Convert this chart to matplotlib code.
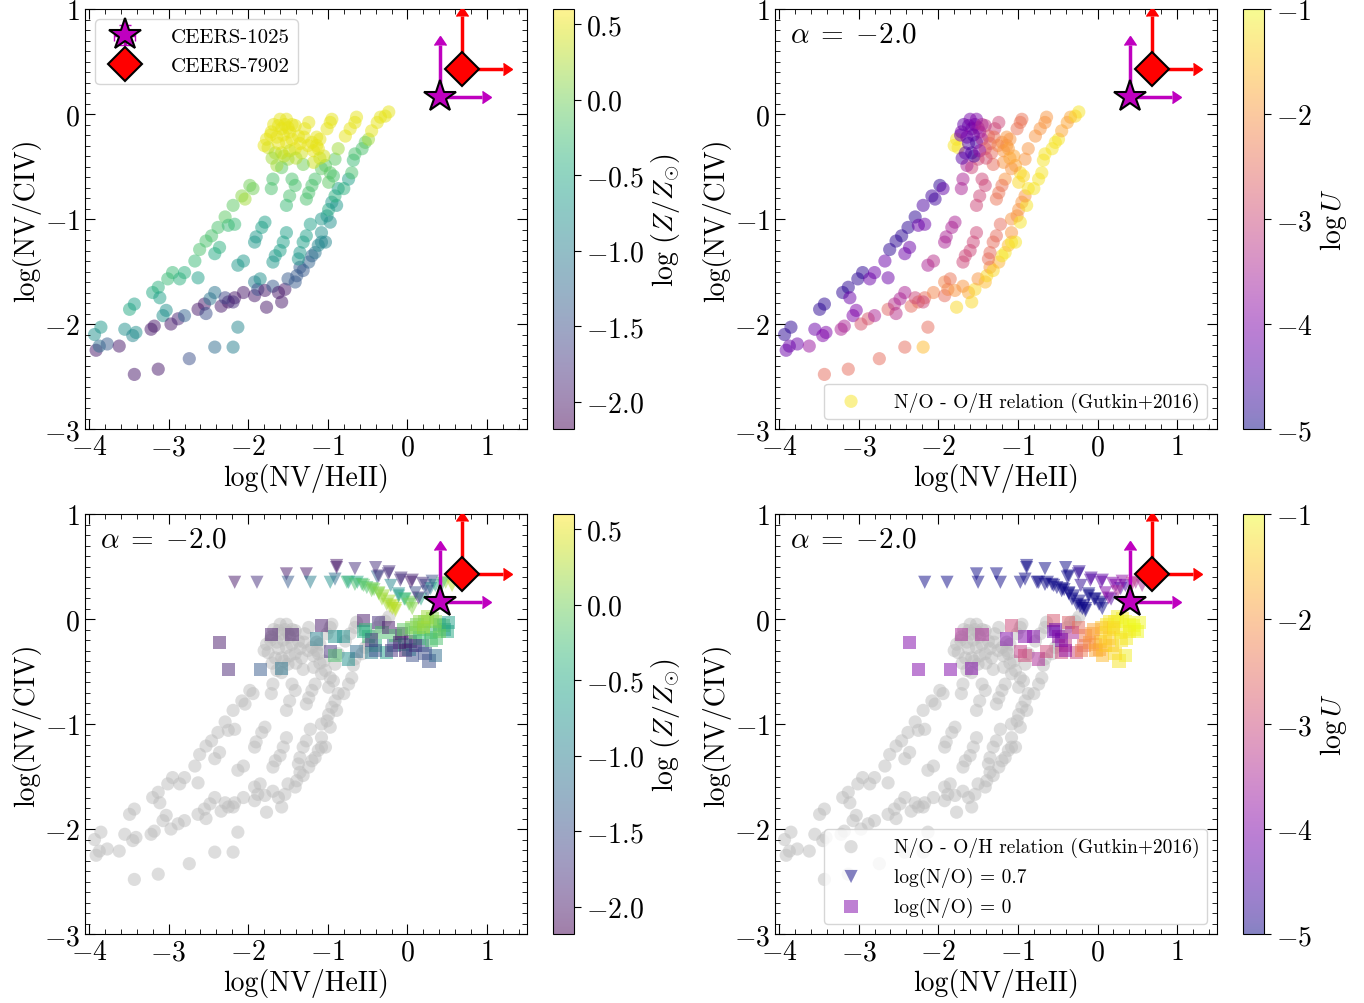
import numpy as np
import matplotlib.pyplot as plt
from matplotlib.ticker import MultipleLocator

plt.rcParams['font.family'] = 'serif'
plt.rcParams['font.serif'] = ['cmr10']
plt.rcParams['mathtext.fontset'] = 'cm'
plt.rcParams['axes.formatter.use_mathtext'] = True
plt.rcParams['font.size'] = 20

# photoionisation grid (Gutkin+2016 N/O - O/H relation)
grid_x = [-0.235, -3.91, -3.85, -3.93, -3.87, -3.77, -3.62, -3.55, -3.49, -3.43,
          -3.45, -3.41, -3.22, -3.18, -3.20, -3.13, -3.11, -3.07, -3.03, -2.97,
          -2.88, -3.01, -2.95, -2.86, -2.80, -2.80, -2.67, -2.61, -2.63, -2.63,
          -2.55, -2.53, -2.48, -2.42, -2.53, -2.46, -2.42, -2.36, -2.38, -2.29,
          -2.25, -2.17, -2.19, -2.34, -2.25, -2.29, -2.17, -2.06, -2.19, -2.13,
          -2.42, -2.19, -2.74, -3.13, -3.43, -2.13, -2.06, -2.08, -2.04, -1.98,
          -1.94, -1.92, -1.90, -1.83, -1.79, -1.92, -1.92, -1.88, -1.85, -1.77,
          -1.79, -1.69, -1.62, -1.58, -1.54, -1.69, -1.66, -1.60, -1.56, -1.52,
          -1.50, -1.41, -1.39, -1.35, -1.31, -1.24, -1.20, -1.37, -1.35, -1.31,
          -1.27, -1.22, -1.16, -1.12, -1.08, -1.08, -1.03, -1.08, -1.01, -0.97,
          -0.99, -0.95, -0.89, -0.91, -0.87, -0.80, -0.74, -0.70, -0.68, -0.66,
          -0.57, -0.53, -0.49, -0.45, -0.38, -0.34, -0.28, -0.91, -0.87, -0.78,
          -0.72, -0.66, -0.64, -0.99, -0.97, -0.93, -1.03, -1.14, -1.10, -1.05,
          -1.01, -0.97, -0.95, -1.08, -1.16, -1.20, -1.24, -1.27, -1.18, -1.31,
          -1.33, -1.29, -1.24, -1.41, -1.45, -1.48, -1.52, -1.50, -1.58, -1.69,
          -1.71, -1.64, -1.77, -1.75, -1.62, -1.58, -1.54, -1.50, -1.64, -1.52,
          -1.58, -1.66, -1.41, -1.37, -1.45, -1.20, -1.14, -1.41, -1.48, -1.71,
          -1.80, -1.72, -1.68, -1.60, -1.56, -1.52, -1.62, -1.45, -1.35, -1.30,
          -1.25, -1.18, -1.12, -1.55, -1.48, -1.70, -1.40, -1.10]
grid_y = [0.02, -2.25, -2.03, -2.10, -2.21, -2.19, -2.21, -2.05, -1.86, -1.81,
          -2.11, -2.08, -2.05, -2.02, -1.70, -1.65, -1.75, -1.92, -1.87, -2.00,
          -1.95, -1.57, -1.51, -1.57, -1.51, -1.92, -1.40, -1.29, -1.56, -1.86,
          -1.81, -1.90, -1.76, -1.70, -1.21, -1.16, -1.33, -1.27, -1.08, -0.98,
          -1.06, -1.05, -0.87, -1.83, -1.79, -1.75, -1.75, -1.70, -1.79, -2.03,
          -2.22, -2.22, -2.33, -2.43, -2.48, -1.44, -1.40, -0.78, -0.81, -0.68,
          -0.71, -1.22, -1.17, -1.08, -1.03, -1.60, -1.73, -1.67, -1.57, -1.84,
          -1.68, -1.64, -1.70, -1.79, -1.67, -1.41, -1.35, -1.30, -1.22, -1.13,
          -1.57, -1.60, -1.54, -1.46, -1.49, -1.41, -1.35, -1.38, -1.32, -1.22,
          -1.16, -1.05, -1.32, -1.25, -1.22, -1.13, -1.22, -1.00, -0.97, -1.03,
          -0.91, -0.84, -0.87, -0.78, -0.71, -0.71, -0.62, -0.56, -0.44, -0.38,
          -0.33, -0.27, -0.24, -0.16, -0.08, -0.03, -0.02, -0.43, -0.33, -0.21,
          -0.14, -0.08, -0.03, -0.65, -0.56, -0.59, -0.49, -0.30, -0.24, -0.40,
          -0.14, -0.08, -0.05, -0.52, -0.62, -0.68, -0.75, -0.81, -0.46, -0.48,
          -0.37, -0.14, -0.08, -0.68, -0.62, -0.78, -0.87, -0.43, -0.51, -0.62,
          -0.71, -0.49, -0.24, -0.32, -0.11, -0.14, -0.10, -0.13, -0.22, -0.27,
          -0.37, -0.37, -0.11, -0.21, -0.24, -0.27, -0.22, -0.33, -0.17, -0.17,
          -0.30, -0.20, -0.10, -0.05, -0.20, -0.05, -0.28, -0.10, -0.28, -0.22,
          -0.30, -0.35, -0.33, -0.40, -0.35, -0.42, -0.42, -0.42]
grid_logz = [0.5, -2.0, -0.7, -0.8, -1.2, -1.4, -2.0, -0.8, -0.5, -0.6,
             -0.9, -0.8, -2.0, -2.0, -0.5, -0.4, -0.6, -0.8, -0.8, -2.0,
             -1.9, -0.3, -0.3, -0.4, -0.4, -1.3, -0.3, -0.2, -0.6, -2.0,
             -2.0, -1.5, -1.1, -1.1, -0.2, -0.2, -0.5, -0.4, -0.2, -0.1,
             -0.3, -0.3, -0.1, -2.0, -2.0, -1.6, -2.0, -2.0, -1.8, -0.9,
             -1.2, -1.0, -1.5, -2.0, -2.0, -0.7, -0.7, 0.1, 0.2, 0.0,
             0.0, -0.7, -0.7, -0.6, -0.6, -1.0, -2.0, -1.5, -0.8, -2.0,
             -2.0, -1.4, -2.0, -2.0, -2.0, -0.7, -0.7, -0.6, -0.6, -0.6,
             -1.4, -1.4, -1.4, -1.4, -1.4, -1.3, -1.3, -0.7, -0.7, -0.6,
             -0.6, -0.6, -1.1, -0.9, -0.9, -0.8, -0.9, -0.7, -0.7, -0.8,
             -0.5, -0.7, -0.7, -0.4, -0.6, -0.4, -0.6, -0.2, -0.3, -0.2,
             -0.2, -0.1, 0.2, 0.5, 0.5, 0.5, 0.5, -0.1, 0.2, 0.5,
             0.5, 0.5, 0.5, -0.1, -0.1, -0.2, -0.1, 0.5, 0.5, 0.4,
             0.5, 0.5, 0.5, -0.1, -0.2, -0.2, -0.2, -0.2, 0.4, 0.0,
             0.4, 0.5, 0.5, -0.2, -0.2, -0.2, -0.3, 0.2, -0.1, -0.2,
             -0.2, 0.2, 0.5, 0.4, 0.5, 0.5, 0.5, 0.5, 0.5, 0.5,
             0.4, 0.3, 0.5, 0.5, 0.5, 0.5, 0.5, 0.5, 0.5, 0.5,
             0.5, 0.5, 0.5, 0.5, 0.5, 0.5, 0.5, 0.5, 0.5, 0.5,
             0.5, 0.5, 0.5, 0.3, 0.4, 0.2, 0.3, 0.4]
grid_logu = [-1.2, -4.2, -4.8, -4.8, -4.2, -4.2, -3.7, -4.2, -4.8, -4.8,
             -4.0, -4.0, -3.5, -3.5, -4.8, -4.8, -4.2, -4.0, -4.0, -2.8,
             -2.8, -4.8, -4.8, -4.2, -4.2, -3.5, -4.2, -4.8, -4.2, -2.6,
             -3.3, -3.3, -3.5, -3.5, -4.8, -4.8, -4.2, -4.2, -4.8, -4.8,
             -4.2, -4.2, -4.5, -2.5, -2.5, -3.0, -2.5, -2.2, -3.0, -2.5,
             -2.5, -1.6, -2.5, -2.5, -2.5, -3.5, -3.3, -4.6, -4.6, -4.8,
             -4.3, -3.5, -3.5, -3.5, -3.5, -2.2, -2.5, -2.2, -2.4, -1.3,
             -2.0, -2.0, -1.8, -1.3, -1.3, -3.0, -3.0, -3.0, -3.0, -3.0,
             -2.0, -1.6, -1.3, -2.0, -1.3, -1.7, -1.2, -2.5, -2.5, -2.5,
             -2.5, -2.5, -1.2, -1.6, -1.2, -2.0, -1.2, -2.0, -2.0, -1.2,
             -2.0, -2.0, -1.2, -2.0, -1.2, -1.2, -1.2, -1.2, -1.2, -1.2,
             -1.2, -1.2, -1.2, -1.8, -1.8, -1.8, -1.3, -2.0, -2.0, -2.0,
             -2.0, -2.0, -2.0, -1.3, -1.3, -1.3, -1.8, -2.0, -2.0, -1.8,
             -2.4, -2.4, -2.4, -2.0, -2.0, -2.4, -2.4, -2.4, -2.0, -2.5,
             -2.5, -3.0, -3.0, -3.0, -3.0, -3.0, -3.0, -3.0, -3.0, -3.5,
             -3.5, -3.5, -1.2, -1.2, -4.2, -4.0, -4.2, -3.8, -4.0, -4.6,
             -4.6, -4.3, -3.2, -2.7, -3.5, -2.0, -2.0, -2.7, -3.6, -4.0,
             -1.2, -4.2, -4.3, -4.1, -4.3, -4.0, -4.5, -3.4, -2.6, -2.4,
             -2.2, -2.0, -1.9, -4.6, -3.8, -4.4, -2.9, -1.8]

# alpha = -2.0 models with log(N/O) = 0.7 (triangles)
no07_x = [-2.17, -1.89, -1.52, -1.50, -1.27, -1.22, -0.97, -0.89, -0.91, -0.74,
          -0.66, -0.63, -0.57, -0.51, -0.45, -0.40, -0.38, -0.36, -0.32, -0.26,
          -0.19, -0.24, -0.21, -0.09, -0.11, -0.03, 0.06, 0.04, 0.10, 0.17,
          0.23, 0.29, 0.35, 0.48, 0.56, -0.30, -0.22, -0.42, -0.15, -0.76,
          -0.66, -0.55, -0.44, -0.36, -0.23, -0.17, -0.15, -0.11, -0.04, 0.02,
          0.06, -0.89, -0.23, -0.08, 0.06, 0.19, 0.31, 0.44, 0.14, 0.25,
          -0.36]
no07_y = [0.35, 0.35, 0.43, 0.35, 0.43, 0.35, 0.35, 0.51, 0.38, 0.35,
          0.48, 0.35, 0.33, 0.30, 0.27, 0.49, 0.40, 0.24, 0.19, 0.14,
          0.10, 0.43, 0.32, 0.37, 0.24, 0.19, 0.16, 0.35, 0.25, 0.19,
          0.32, 0.29, 0.32, 0.35, 0.32, 0.22, 0.12, 0.28, 0.10, 0.35,
          0.33, 0.32, 0.29, 0.25, 0.17, 0.13, 0.08, 0.22, 0.19, 0.14,
          0.10, 0.49, 0.45, 0.39, 0.37, 0.34, 0.36, 0.34, 0.20, 0.26,
          0.41]
no07_logz = [-2.0, -1.8, -2.0, -1.4, -2.0, -1.0, -0.8, -2.0, -1.2, -0.7,
             -1.8, -0.5, -0.3, -0.2, 0.0, -1.8, -1.3, 0.1, 0.2, 0.2,
             0.3, -1.8, -0.9, -1.8, -0.8, -0.3, 0.0, -2.0, -1.5, -0.5,
             -1.5, -0.9, -0.5, 0.2, 0.3, 0.2, 0.3, 0.0, 0.3, -0.3,
             -0.2, -0.1, 0.0, 0.1, 0.2, 0.3, 0.3, -0.6, -0.3, 0.0,
             0.1, -2.0, -1.8, -1.8, -1.9, -1.8, -1.5, -0.2, -1.8, -1.5,
             -1.8]
no07_logu = [-5.0, -5.0, -5.0, -5.0, -5.0, -5.0, -5.0, -5.0, -5.0, -5.0,
             -5.0, -5.0, -5.0, -5.0, -5.0, -5.0, -5.0, -5.0, -5.0, -5.0,
             -5.0, -4.8, -4.8, -4.5, -5.0, -5.0, -5.0, -4.3, -4.0, -4.5,
             -4.0, -4.5, -4.5, -3.5, -3.5, -5.0, -5.0, -5.0, -5.0, -5.0,
             -5.0, -5.0, -5.0, -5.0, -5.0, -5.0, -5.0, -5.0, -5.0, -5.0,
             -5.0, -5.0, -4.8, -4.5, -4.3, -4.0, -3.8, -3.2, -3.8, -3.5,
             -5.0]

# alpha = -2.0 models with log(N/O) = 0 (squares)
no0_x = [-2.36, -2.25, -1.85, -1.71, -1.58, -1.45, -1.14, -1.08, -0.97, -0.91,
         -0.80, -0.91, -0.74, -0.64, -0.55, -0.53, -0.49, -0.45, -0.36, -0.32,
         -0.26, -0.24, -0.17, -0.15, -0.07, -0.03, 0.02, 0.04, 0.10, 0.12,
         0.19, 0.21, 0.27, 0.29, 0.35, 0.40, 0.46, 0.31, 0.20, 0.15,
         -0.40, 0.36, 0.15, 0.25, 0.35, 0.45, 0.50, 0.40, 0.20, 0.05,
         -0.05, 0.30, 0.52, -0.10, -0.02, 0.06, -0.20, 0.10, 0.22, -0.45,
         -0.40, -0.55]
no0_y = [-0.22, -0.48, -0.48, -0.15, -0.47, -0.15, -0.19, -0.06, -0.31, -0.17,
         -0.17, -0.35, -0.38, -0.31, -0.01, -0.10, -0.17, -0.32, -0.03, -0.13,
         -0.32, -0.08, -0.25, -0.16, -0.14, -0.24, -0.29, -0.21, -0.13, -0.05,
         -0.25, -0.02, -0.40, -0.13, -0.35, -0.05, -0.10, 0.00, -0.10, -0.18,
         -0.25, -0.18, -0.02, 0.02, -0.02, -0.06, -0.12, -0.12, -0.08, -0.08,
         -0.10, -0.20, -0.03, -0.22, -0.30, -0.35, -0.30, -0.25, -0.33, -0.20,
         -0.30, -0.12]
no0_logz = [-2.0, -1.9, -1.4, -2.0, -1.1, -2.0, -1.0, -2.0, -1.8, -0.8,
            -0.8, -0.2, -0.8, -1.2, -2.0, -0.3, -0.3, -1.0, -1.8, -0.2,
            -0.6, -2.0, -1.4, -0.2, -2.0, -0.5, -0.8, -2.0, -0.1, 0.0,
            -1.5, 0.1, -1.5, -0.3, -1.2, -0.6, -0.7, 0.1, 0.0, -0.3,
            -0.4, -0.2, 0.1, 0.2, 0.1, -0.1, -0.5, 0.0, 0.2, 0.1,
            -0.1, -0.2, -0.6, -2.0, -2.0, -1.5, -1.8, -1.8, -1.5, -1.8,
            -1.5, -0.5]
no0_logu = [-4.0, -4.0, -4.0, -3.5, -4.0, -3.5, -4.0, -3.0, -3.2, -4.0,
            -4.0, -3.0, -3.5, -3.0, -2.8, -4.2, -3.8, -3.0, -2.7, -3.5,
            -3.0, -2.5, -2.5, -2.3, -2.0, -2.0, -2.0, -1.5, -1.3, -1.2,
            -1.5, -1.1, -1.2, -1.1, -1.1, -1.0, -1.0, -1.1, -1.2, -1.4,
            -3.2, -1.1, -1.2, -1.1, -1.0, -1.0, -1.0, -1.1, -1.3, -1.5,
            -1.8, -1.2, -1.0, -2.0, -1.8, -1.6, -2.3, -1.5, -1.3, -4.0,
            -3.8, -4.2]

# observed objects: log(NV/HeII), log(NV/CIV) lower limits
obj_names = ['CEERS-1025', 'CEERS-7902']
obj_x = [0.41, 0.68]
obj_y = [0.16, 0.43]
obj_markers = ['*', 'D']
obj_sizes = [24, 17]
obj_colors = ['m', 'r']

zmin, zmax = -2.18, 0.6
umin, umax = -5, -1

fig = plt.figure(figsize=(13.64, 10.04), dpi=100)
W = 0.324
H = 0.4183
pos = {(0, 0): (0.0623, 0.5717), (0, 1): (0.5682, 0.5717),
       (1, 0): (0.0623, 0.0687), (1, 1): (0.5682, 0.0687)}


def style_ax(ax):
    ax.set_xlim(-4.05, 1.5)
    ax.set_ylim(-3, 1)
    ax.xaxis.set_major_locator(MultipleLocator(1))
    ax.xaxis.set_minor_locator(MultipleLocator(0.2))
    ax.yaxis.set_major_locator(MultipleLocator(1))
    ax.yaxis.set_minor_locator(MultipleLocator(0.1))
    ax.tick_params(which='both', direction='in', top=True, right=True, labelsize=20)
    ax.tick_params(which='major', length=7)
    ax.tick_params(which='minor', length=3.5)
    ax.set_xlabel('log(NV/HeII)', fontsize=20, labelpad=2)
    ax.set_ylabel('log(NV/CIV)', fontsize=20, labelpad=2)


def add_objects(ax):
    handles = []
    for x, y, mk, ms, c in zip(obj_x, obj_y, obj_markers, obj_sizes, obj_colors):
        eb = ax.errorbar(x, y, xerr=0.52, yerr=0.5, xlolims=True, lolims=True,
                         fmt='none', ecolor=c, elinewidth=2.5, capsize=4.5, zorder=9)
        for cap in eb[1]:
            cap.set_markerfacecolor(c)
            cap.set_markeredgecolor(c)
        ln, = ax.plot(x, y, mk, ms=ms, mfc=c, mec='k', mew=1.5, zorder=10)
        handles.append((eb, ln))
    return handles


def add_cbar(ax, sc, label, ticks):
    p = ax.get_position()
    cax = fig.add_axes([p.x1 + 0.019, p.y0, 0.0155, p.height])
    cb = fig.colorbar(sc, cax=cax, ticks=ticks)
    cb.set_label(label, fontsize=20)
    cb.ax.tick_params(labelsize=20, length=5)
    return cb


alpha_txt = r'$\alpha\;=\;{-}2.0$'

# top left: grid coloured by metallicity
ax1 = fig.add_axes([*pos[(0, 0)], W, H])
sc1 = ax1.scatter(grid_x, grid_y, c=grid_logz, cmap='viridis', vmin=zmin, vmax=zmax,
                  s=90, alpha=0.5, edgecolors='none')
obj_h = add_objects(ax1)
style_ax(ax1)
ax1.legend(obj_h, obj_names, loc='upper left', fontsize=15, handletextpad=1.2)
add_cbar(ax1, sc1, r'$\log\,(Z/Z_{\odot})$', [-2.0, -1.5, -1.0, -0.5, 0.0, 0.5])

# top right: grid coloured by ionisation parameter
ax2 = fig.add_axes([*pos[(0, 1)], W, H])
sc2 = ax2.scatter(grid_x, grid_y, c=grid_logu, cmap='plasma', vmin=umin, vmax=umax,
                  s=90, alpha=0.5, edgecolors='none')
add_objects(ax2)
style_ax(ax2)
ax2.text(0.035, 0.94, alpha_txt, transform=ax2.transAxes, fontsize=21, va='center')
ax2.legend([sc2], ['N/O - O/H relation (Gutkin+2016)'], loc='lower right',
           fontsize=14, handletextpad=1.2)
add_cbar(ax2, sc2, r'$\log U$', [-5, -4, -3, -2, -1])

# bottom left: N/O variations coloured by metallicity
ax3 = fig.add_axes([*pos[(1, 0)], W, H])
ax3.scatter(grid_x, grid_y, color='#bdbdbd', s=90, alpha=0.5, edgecolors='none')
sc3 = ax3.scatter(no0_x, no0_y, c=no0_logz, cmap='viridis', vmin=zmin, vmax=zmax,
                  marker='s', s=90, alpha=0.5, edgecolors='none')
ax3.scatter(no07_x, no07_y, c=no07_logz, cmap='viridis', vmin=zmin, vmax=zmax,
            marker='v', s=90, alpha=0.5, edgecolors='none')
add_objects(ax3)
style_ax(ax3)
ax3.text(0.035, 0.94, alpha_txt, transform=ax3.transAxes, fontsize=21, va='center')
add_cbar(ax3, sc3, r'$\log\,(Z/Z_{\odot})$', [-2.0, -1.5, -1.0, -0.5, 0.0, 0.5])

# bottom right: N/O variations coloured by ionisation parameter
ax4 = fig.add_axes([*pos[(1, 1)], W, H])
g4 = ax4.scatter(grid_x, grid_y, color='#bdbdbd', s=90, alpha=0.5, edgecolors='none')
t4 = ax4.scatter(no07_x, no07_y, c=no07_logu, cmap='plasma', vmin=umin, vmax=umax,
                 marker='v', s=90, alpha=0.5, edgecolors='none')
s4 = ax4.scatter(no0_x, no0_y, c=no0_logu, cmap='plasma', vmin=umin, vmax=umax,
                 marker='s', s=90, alpha=0.5, edgecolors='none')
add_objects(ax4)
style_ax(ax4)
ax4.text(0.035, 0.94, alpha_txt, transform=ax4.transAxes, fontsize=21, va='center')
ax4.legend([g4, t4, s4], ['N/O - O/H relation (Gutkin+2016)', 'log(N/O) = 0.7',
                          'log(N/O) = 0'], loc='lower right', fontsize=14,
           handletextpad=1.2)
add_cbar(ax4, s4, r'$\log U$', [-5, -4, -3, -2, -1])

fig.savefig('out.png', dpi=100)
